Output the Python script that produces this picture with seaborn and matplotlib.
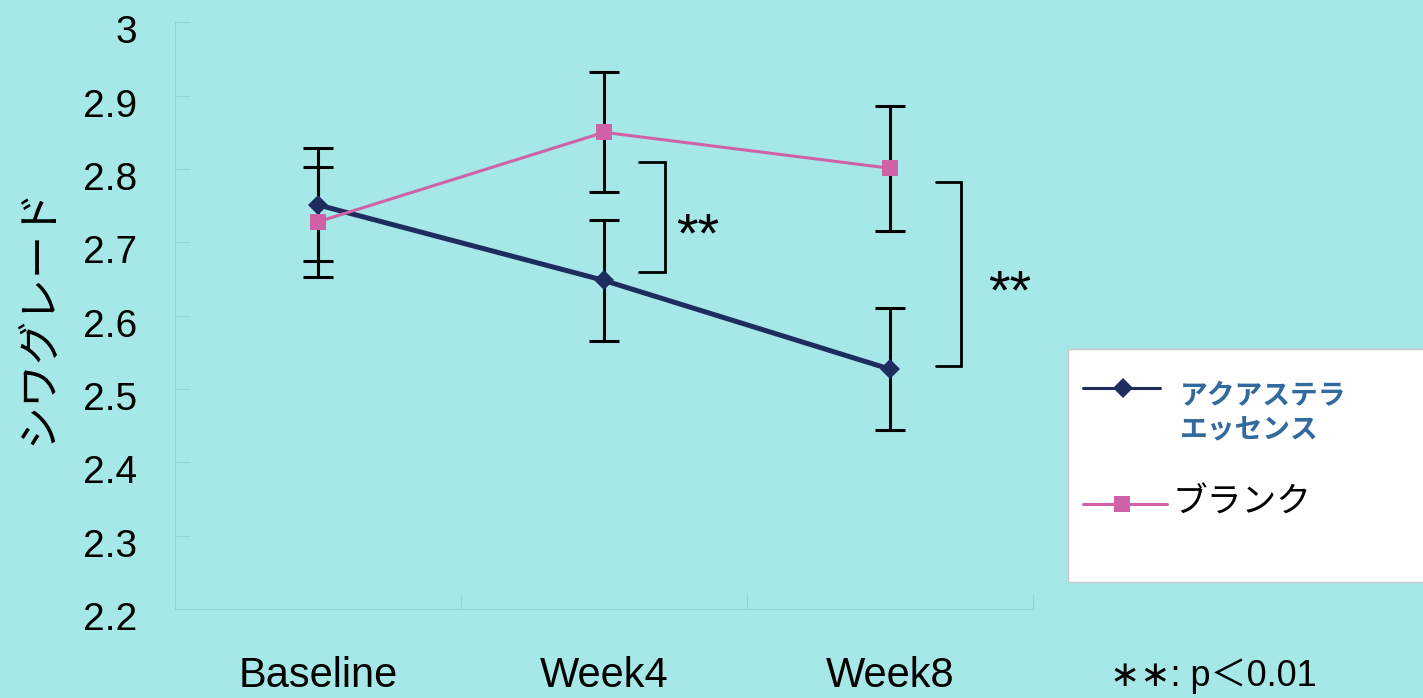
import numpy as np
import pandas as pd
import matplotlib
matplotlib.use("Agg")
import matplotlib.pyplot as plt
import matplotlib.transforms as mtransforms
from matplotlib.lines import Line2D
from matplotlib.patches import Rectangle
import seaborn as sns

# data
weeks = ["Baseline", "Week4", "Week8"]
aqua_mean = [2.751, 2.648, 2.527]
aqua_err = [0.077, 0.082, 0.083]
blank_mean = [2.728, 2.850, 2.801]
blank_err = [0.075, 0.082, 0.085]
aqua_label = "アクアステラ\nエッセンス"
blank_label = "ブランク"
y_ticks = [2.2, 2.3, 2.4, 2.5, 2.6, 2.7, 2.8, 2.9, 3.0]
# significance brackets (x in category units, y in score units)
sig_x0 = [1.122, 2.161]
sig_x1 = [1.213, 2.248]
sig_top = [2.809, 2.782]
sig_bottom = [2.659, 2.531]
sig_star_x = [1.329, 2.42]

bg = "#A6E8E8"
spine_col = "#94D4D4"
navy = "#1F2C5E"
pink = "#CF62A6"
label_blue = "#336A9E"

sns.set_style("white", {"axes.facecolor": bg, "figure.facecolor": bg})
plt.rcParams["font.family"] = ["Liberation Sans", "Noto Sans CJK JP", "DejaVu Sans"]
plt.rcParams["text.color"] = "black"
plt.rcParams["axes.labelcolor"] = "black"
plt.rcParams["xtick.labelcolor"] = "black"
plt.rcParams["ytick.labelcolor"] = "black"

df = pd.DataFrame({
    "week": weeks * 2,
    "score": aqua_mean + blank_mean,
    "err": aqua_err + blank_err,
    "group": [aqua_label] * 3 + [blank_label] * 3,
})

W, H = 1423, 698
fig = plt.figure(figsize=(W / 100, H / 100), dpi=100, facecolor=bg)
ax = fig.add_axes([175 / W, 89 / H, 858 / W, 586.7 / H])
ax.set_facecolor(bg)

# error bars first, below the lines
for g in [aqua_label, blank_label]:
    d = df[df["group"] == g]
    ax.errorbar(d["week"], d["score"], yerr=d["err"], fmt="none", ecolor="black",
                elinewidth=2.2, capsize=11, capthick=2.2, zorder=2)

sns.lineplot(data=df[df["group"] == aqua_label], x="week", y="score", sort=False,
             color=navy, lw=3.6, marker="D", markersize=10.5, markeredgewidth=0,
             ax=ax, zorder=3)
sns.lineplot(data=df[df["group"] == blank_label], x="week", y="score", sort=False,
             color=pink, lw=2.2, marker="s", markersize=12, markeredgewidth=0,
             ax=ax, zorder=4)

ax.set_xlim(-0.5, 2.5)
ax.set_ylim(2.2, 3.0)
ax.set_yticks(y_ticks)
ax.set_yticklabels(["{:g}".format(round(v, 1)) for v in y_ticks])
ax.set_xticks(range(len(weeks)))
ax.set_xticklabels(weeks)
ax.set_xticks(np.arange(len(weeks)) + 0.5, minor=True)
ax.tick_params(axis="y", direction="in", length=11, width=0.8, color=spine_col,
               labelsize=28, pad=27, left=True, labelcolor="black")
ax.tick_params(axis="x", which="major", length=0, labelsize=30, pad=34,
               labelcolor="black")
ax.tick_params(axis="x", which="minor", direction="in", length=11, width=0.8,
               color=spine_col, bottom=True)
# y labels sit a little below their ticks in the reference
down = mtransforms.ScaledTranslation(0, -7 / 100, fig.dpi_scale_trans)
for lab in ax.yaxis.get_majorticklabels():
    lab.set_transform(lab.get_transform() + down)

ax.set_xlabel("")
ax.set_ylabel("シワグレード", fontsize=31, family=["Noto Sans CJK JP"])
ax.yaxis.set_label_coords(-0.159, 0.5)
ax.yaxis.label.set_verticalalignment("center")

for s in ["top", "right"]:
    ax.spines[s].set_visible(False)
for s in ["left", "bottom"]:
    ax.spines[s].set_color(spine_col)
    ax.spines[s].set_linewidth(0.8)

# significance brackets
for x0, x1, t, b, sx in zip(sig_x0, sig_x1, sig_top, sig_bottom, sig_star_x):
    ax.plot([x0, x1, x1, x0], [t, t, b, b], color="black", lw=2.0,
            solid_joinstyle="miter", zorder=2)
    ax.text(sx, (t + b) / 2 - 0.047, "**", fontsize=40, ha="center",
            va="baseline", color="black")

# legend box drawn in figure pixels
def fx(x):
    return x / W


def fy(y):
    return 1 - y / H


fig.patches.append(Rectangle((fx(1068), fy(582)), fx(400), 233 / H,
                             transform=fig.transFigure, facecolor="white",
                             edgecolor="#C8C8C8", lw=1.0, zorder=5))
fig.lines.append(Line2D([fx(1083), fx(1160)], [fy(388), fy(388)], color=navy,
                        lw=2.2, transform=fig.transFigure, zorder=6))
fig.lines.append(Line2D([fx(1123)], [fy(388)], color=navy, marker="D",
                        markersize=10.5, markeredgewidth=0,
                        transform=fig.transFigure, zorder=7))
fig.lines.append(Line2D([fx(1083), fx(1167)], [fy(504), fy(504)], color=pink,
                        lw=2.2, transform=fig.transFigure, zorder=6))
fig.lines.append(Line2D([fx(1122)], [fy(504)], color=pink, marker="s",
                        markersize=12, markeredgewidth=0,
                        transform=fig.transFigure, zorder=7))
fig.text(fx(1180), fy(413), aqua_label, fontsize=20, fontweight="bold",
         color=label_blue, ha="left", va="center", linespacing=1.3,
         family=["Noto Sans CJK JP"], zorder=8)
fig.text(fx(1172), fy(503), blank_label, fontsize=25, color="black",
         ha="left", va="center", family=["Noto Sans CJK JP"], zorder=8)

# p-value note (asterisk operator so the stars sit centred on the line)
fig.text(fx(1110), fy(686), "∗∗: p＜0.01", fontsize=26, color="black",
         ha="left", va="baseline",
         family=["Liberation Sans", "DejaVu Sans", "Noto Sans CJK JP"])

fig.savefig("out.png", dpi=100, facecolor=bg)
